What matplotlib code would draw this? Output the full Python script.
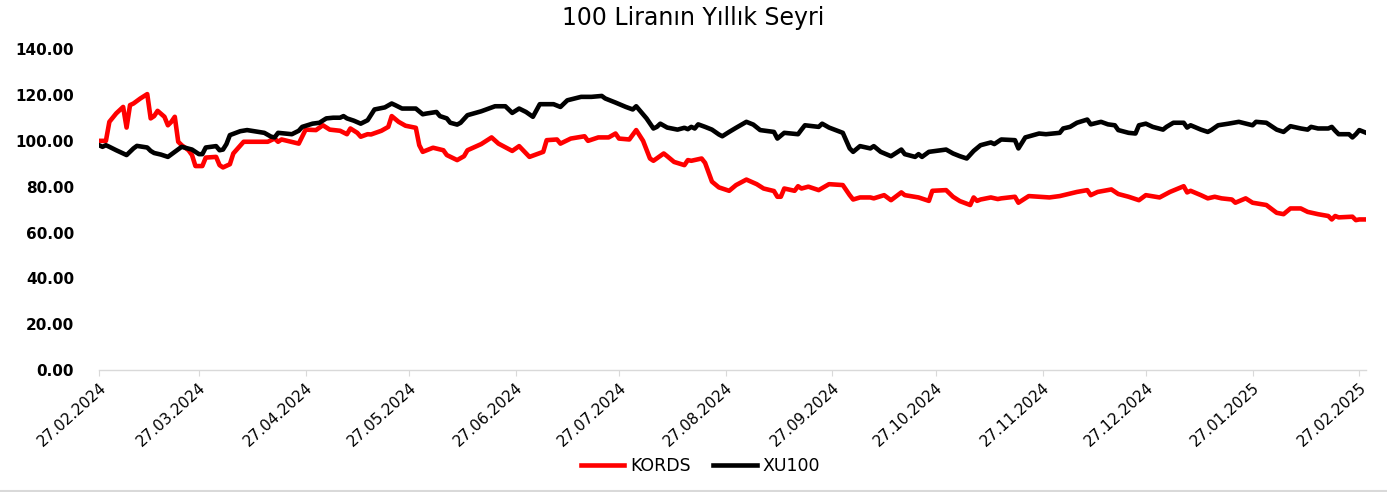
import matplotlib
matplotlib.use("Agg")
import matplotlib.pyplot as plt
import matplotlib.dates as mdates
import numpy as np

plt.rcParams['font.family'] = ['DejaVu Sans']

start = np.datetime64('2024-02-27')

# days after 27.02.2024
kords_day = [0, 2, 3, 5, 7, 8, 9, 10, 12, 14, 15, 16, 17, 19, 20, 21, 22, 23, 24, 26,
             27, 28, 30, 31, 34, 35, 36, 38, 39, 42, 49, 51, 52, 53, 58, 60, 63, 65, 67, 70,
             72, 73, 75, 76, 78, 79, 82, 84, 85, 87, 89, 92, 93, 94, 97, 100, 101, 104, 106, 107,
             111, 114, 116, 120, 122, 125, 129, 130, 133, 134, 137, 141, 142, 145, 148, 150, 151, 154, 156, 158,
             160, 161, 164, 165, 167, 170, 171, 172, 175, 176, 178, 180, 183, 185, 188, 191, 193, 196, 197, 198,
             199, 202, 203, 204, 206, 209, 211, 212, 216, 218, 219, 221, 224, 225, 228, 230, 233, 234, 238, 241,
             242, 246, 248, 250, 253, 254, 255, 256, 259, 261, 262, 266, 267, 270, 273, 276, 279, 282, 284, 287,
             288, 290, 294, 296, 299, 302, 304, 308, 311, 315, 316, 317, 320, 322, 324, 326, 329, 330, 333, 335,
             339, 342, 344, 346, 349, 351, 354, 357, 358, 359, 360, 364, 365, 366, 368]
kords = [100, 100, 108.3, 112, 114.8, 105.8, 115.6, 116.3, 118.5, 120.4, 109.8, 110.8, 113.1, 110.5, 106.8, 108.3, 110.5, 99.6, 98.1, 95.9,
         93.8, 89, 89, 92.7, 93, 89.4, 88.4, 89.8, 94.5, 99.6, 99.6, 101, 99.6, 100.6, 98.8, 104.9, 104.7, 106.8, 104.9, 104.4,
         102.9, 105.4, 103.5, 101.8, 102.9, 102.8, 104.4, 106.1, 110.8, 108.3, 106.6, 105.7, 98.1, 95.2, 97, 95.9, 93.8, 91.6, 93.3, 95.9,
         98.6, 101.5, 98.8, 95.6, 97.7, 93, 95.2, 100.3, 100.6, 98.8, 101, 102, 100, 101.5, 101.5, 103.2, 101, 100.6, 104.7, 100,
         92.3, 91.3, 94.5, 93.3, 90.8, 89.4, 91.6, 91.3, 92.3, 90.4, 82.2, 79.7, 78.2, 80.7, 83.1, 81.1, 79.2, 78.1, 75.6, 75.6,
         79.2, 78.2, 80.2, 79.2, 80, 78.5, 80.2, 81.1, 80.7, 76.3, 74.4, 75.3, 75.3, 74.9, 76.3, 74.1, 77.5, 76.3, 75.3, 73.8,
         78.2, 78.5, 75.6, 73.7, 72, 75.3, 73.8, 74.4, 75.3, 74.6, 74.9, 75.6, 73, 75.9, 75.6, 75.3, 75.9, 77, 77.7, 78.5,
         76.3, 77.7, 78.8, 76.8, 75.6, 74.1, 76.3, 75.3, 77.7, 80.2, 77.5, 78.2, 76.3, 74.9, 75.6, 74.9, 74.4, 73, 74.9, 73,
         72, 68.6, 68, 70.5, 70.5, 69, 68, 67.2, 65.7, 67.2, 66.6, 66.9, 65.4, 65.7, 65.7]

xu100_day = [0, 1, 2, 3, 5, 7, 8, 10, 11, 14, 15, 16, 18, 20, 22, 24, 27, 29, 30, 31,
             34, 35, 36, 37, 38, 41, 43, 48, 50, 51, 52, 56, 58, 59, 62, 64, 66, 68, 70, 71,
             72, 74, 76, 78, 80, 83, 85, 86, 88, 92, 94, 95, 98, 99, 101, 102, 104, 105, 107, 111,
             115, 118, 120, 122, 124, 126, 128, 132, 134, 136, 140, 143, 146, 147, 150, 153, 155, 156, 159, 161,
             162, 163, 165, 168, 170, 171, 172, 173, 174, 176, 178, 180, 181, 183, 185, 188, 190, 192, 196, 197,
             199, 203, 204, 205, 209, 210, 212, 216, 218, 219, 221, 224, 225, 227, 230, 233, 234, 237, 238, 239,
             241, 246, 248, 250, 252, 254, 256, 259, 260, 262, 266, 267, 269, 273, 275, 279, 280, 282, 284, 287,
             288, 291, 293, 295, 296, 299, 301, 302, 304, 306, 309, 310, 312, 315, 316, 317, 320, 322, 323, 325,
             328, 331, 335, 336, 339, 342, 344, 346, 349, 351, 352, 354, 357, 358, 359, 360, 363, 364, 365, 366, 368]
xu100 = [98.1, 97.4, 98.1, 97.4, 95.9, 94.5, 93.8, 96.7, 97.8, 97.1, 95.6, 94.7, 94, 93, 95.2, 97.4, 96.2, 94.2, 94.2, 97.1,
         97.7, 95.9, 96.2, 98.6, 102.5, 104.2, 104.7, 103.5, 101.8, 101.5, 103.5, 102.9, 104.4, 106.1, 107.5, 107.9, 109.8, 110.1, 110.1, 110.8,
         109.8, 108.8, 107.5, 109, 113.7, 114.6, 116.3, 115.6, 114.1, 114.1, 111.6, 111.9, 112.6, 110.8, 109.8, 107.9, 107.1, 107.9, 111.2, 112.9,
         115.1, 115.1, 112.2, 114.1, 112.6, 110.5, 116, 116, 114.8, 117.7, 119.2, 119.2, 119.6, 118.5, 116.7, 114.8, 113.7, 115.1, 109.8, 105.4,
         106.1, 107.5, 105.8, 104.9, 105.7, 105.1, 106.1, 105.4, 107.2, 106.1, 104.9, 102.8, 102, 103.9, 105.7, 108.3, 107.1, 104.7, 103.9, 101,
         103.5, 102.9, 104.9, 106.8, 106.1, 107.5, 105.8, 103.5, 96.7, 95.2, 97.7, 96.7, 97.7, 95.2, 93.3, 96.2, 94.2, 93, 94.2, 93,
         95.2, 96.2, 94.5, 93.3, 92.3, 95.6, 98.1, 99.3, 98.6, 100.6, 100.3, 96.7, 101.5, 103.2, 102.9, 103.5, 105.4, 106.1, 107.9, 109.3,
         107.2, 108.3, 107.2, 106.8, 104.7, 103.5, 103.2, 106.8, 107.5, 106.1, 104.9, 106.1, 107.9, 107.9, 105.8, 106.8, 104.9, 103.9, 104.7, 106.8,
         107.5, 108.3, 106.8, 108.3, 107.9, 104.9, 103.9, 106.4, 105.4, 104.9, 106.1, 105.4, 105.4, 106.1, 104.4, 102.9, 102.9, 101.5, 102.9, 104.7, 103.5]

tick_dates = ['2024-02-27', '2024-03-27', '2024-04-27', '2024-05-27', '2024-06-27', '2024-07-27',
              '2024-08-27', '2024-09-27', '2024-10-27', '2024-11-27', '2024-12-27', '2025-01-27', '2025-02-27']
y_ticks = [0, 20, 40, 60, 80, 100, 120, 140]

kords_dates = start + np.array(kords_day).astype('timedelta64[D]')
xu100_dates = start + np.array(xu100_day).astype('timedelta64[D]')

fig = plt.figure(figsize=(13.87, 4.92), dpi=100)
ax = fig.add_axes([0.0714, 0.248, 0.9136, 0.652])

ax.plot(kords_dates, kords, color='#ff0000', lw=3.3, label='KORDS', solid_joinstyle='round')
ax.plot(xu100_dates, xu100, color='#000000', lw=3.3, label='XU100', solid_joinstyle='round')

ax.set_xlim(start, start + np.timedelta64(368, 'D'))
ax.set_ylim(0, 140)
ax.set_yticks(y_ticks)
ax.set_yticklabels([f'{v:.2f}' for v in y_ticks], fontsize=11, fontweight='bold')
ax.set_xticks([np.datetime64(d) for d in tick_dates])
ax.xaxis.set_major_formatter(mdates.DateFormatter('%d.%m.%Y'))
for lbl in ax.get_xticklabels():
    lbl.set_rotation(42)
    lbl.set_ha('right')
    lbl.set_rotation_mode('anchor')
    lbl.set_fontsize(11)

for s in ['top', 'right', 'left']:
    ax.spines[s].set_visible(False)
ax.spines['bottom'].set_color('#d9d9d9')
ax.spines['bottom'].set_linewidth(1)
ax.tick_params(axis='y', length=0, pad=18)
ax.tick_params(axis='x', direction='out', length=4, color='#d9d9d9', pad=3)

fig.suptitle('100 Liranın Yıllık Seyri', y=0.988, fontsize=17)
fig.legend(loc='center', bbox_to_anchor=(0.505, 0.052), ncol=2, frameon=False,
           fontsize=12.5, handlelength=2.5, columnspacing=1.3, handletextpad=0.35)
fig.add_artist(plt.Line2D([0, 1], [0.003, 0.003], color='#d9d9d9', lw=1.5, transform=fig.transFigure))

fig.savefig('out.png', dpi=100)
